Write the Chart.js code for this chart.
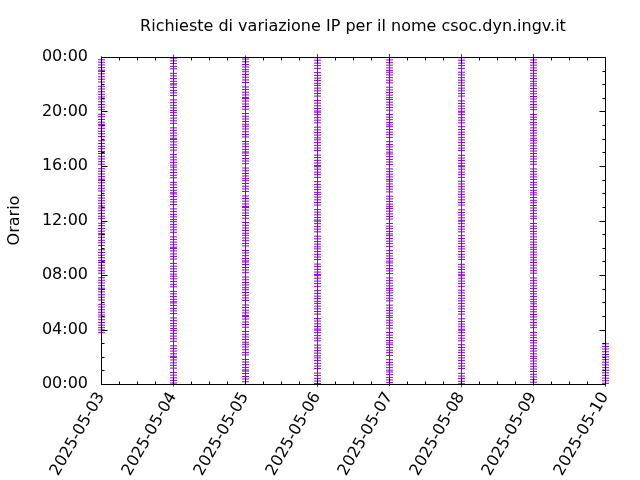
<!DOCTYPE html>
<html><head><meta charset="utf-8">
<script src="https://cdn.jsdelivr.net/npm/chart.js@4"></script>
<style>html,body{margin:0;padding:0;background:#fff}#c{display:block}</style>
</head><body>
<canvas id="c" width="640" height="480"></canvas>
<script>
const TITLE = "Richieste di variazione IP per il nome csoc.dyn.ingv.it";
const Y_LABEL = "Orario";
const dates = ["2025-05-03","2025-05-04","2025-05-05","2025-05-06","2025-05-07","2025-05-08","2025-05-09","2025-05-10"];
const yTickLabels = ["00:00","04:00","08:00","12:00","16:00","20:00","00:00"];

const times_0503 = ["03:46","03:58",
"04:08","04:19","04:31","04:43","04:55","05:04","05:16","05:27","05:39","05:51",
"06:10","06:22","06:33","06:46","06:57","07:02","07:13","07:25","07:37","07:48",
"08:08","08:19","08:31","08:43","08:55","09:04","09:16","09:27","09:39","09:51",
"10:10","10:22","10:33","10:46","10:57","11:02","11:13","11:25","11:37","11:48",
"12:08","12:19","12:31","12:43","12:55","13:04","13:16","13:27","13:39","13:51",
"14:10","14:22","14:33","14:46","14:57","15:02","15:13","15:25","15:37","15:48",
"16:08","16:19","16:31","16:43","16:55","17:04","17:16","17:27","17:39","17:51",
"18:10","18:22","18:33","18:46","18:57","19:02","19:13","19:25","19:37","19:48",
"20:08","20:19","20:31","20:43","20:55","21:04","21:16","21:27","21:39","21:51",
"22:10","22:22","22:33","22:46","22:57","23:02","23:13","23:25","23:37","23:48"];

const times_0504 = [
"00:04","00:16","00:27","00:39","00:51","01:10","01:22","01:33","01:46","01:57",
"02:02","02:13","02:25","02:37","02:48","03:08","03:19","03:31","03:43","03:55",
"04:04","04:16","04:27","04:39","04:51","05:10","05:22","05:33","05:46","05:57",
"06:02","06:13","06:25","06:37","06:48","07:08","07:19","07:31","07:43","07:55",
"08:04","08:16","08:27","08:39","08:51","09:10","09:22","09:33","09:46","09:57",
"10:02","10:13","10:25","10:37","10:48","11:08","11:19","11:31","11:43","11:55",
"12:04","12:16","12:27","12:39","12:51","13:10","13:22","13:33","13:46","13:57",
"14:02","14:13","14:25","14:37","14:48","15:08","15:19","15:31","15:43","15:55",
"16:04","16:16","16:27","16:39","16:51","17:10","17:22","17:33","17:46","17:57",
"18:02","18:13","18:25","18:37","18:48","19:08","19:19","19:31","19:43","19:55",
"20:04","20:16","20:27","20:39","20:51","21:10","21:22","21:33","21:46","21:57",
"22:02","22:13","22:25","22:37","22:48","23:08","23:19","23:31","23:43","23:55"];

const times_0505 = [
"00:10","00:22","00:33","00:46","00:57","01:02","01:13","01:25","01:37","01:48",
"02:08","02:19","02:31","02:43","02:55","03:04","03:16","03:27","03:39","03:51",
"04:10","04:22","04:33","04:46","04:57","05:02","05:13","05:25","05:37","05:48",
"06:08","06:19","06:31","06:43","06:55","07:04","07:16","07:27","07:39","07:51",
"08:10","08:22","08:33","08:46","08:57","09:02","09:13","09:25","09:37","09:48",
"10:08","10:19","10:31","10:43","10:55","11:04","11:16","11:27","11:39","11:51",
"12:10","12:22","12:33","12:46","12:57","13:02","13:13","13:25","13:37","13:48",
"14:08","14:19","14:31","14:43","14:55","15:04","15:16","15:27","15:39","15:51",
"16:10","16:22","16:33","16:46","16:57","17:02","17:13","17:25","17:37","17:48",
"18:08","18:19","18:31","18:43","18:55","19:04","19:16","19:27","19:39","19:51",
"20:10","20:22","20:33","20:46","20:57","21:02","21:13","21:25","21:37","21:48",
"22:08","22:19","22:31","22:43","22:55","23:04","23:16","23:27","23:39","23:51"];

const times_0506 = [
"00:02","00:13","00:25","00:37","00:48","01:08","01:19","01:31","01:43","01:55",
"02:04","02:16","02:27","02:39","02:51","03:10","03:22","03:33","03:46","03:57",
"04:02","04:13","04:25","04:37","04:48","05:08","05:19","05:31","05:43","05:55",
"06:04","06:16","06:27","06:39","06:51","07:10","07:22","07:33","07:46","07:57",
"08:02","08:13","08:25","08:37","08:48","09:08","09:19","09:31","09:43","09:55",
"10:04","10:16","10:27","10:39","10:51","11:10","11:22","11:33","11:46","11:57",
"12:02","12:13","12:25","12:37","12:48","13:08","13:19","13:31","13:43","13:55",
"14:04","14:16","14:27","14:39","14:51","15:10","15:22","15:33","15:46","15:57",
"16:02","16:13","16:25","16:37","16:48","17:08","17:19","17:31","17:43","17:55",
"18:04","18:16","18:27","18:39","18:51","19:10","19:22","19:33","19:46","19:57",
"20:02","20:13","20:25","20:37","20:48","21:08","21:19","21:31","21:43","21:55",
"22:04","22:16","22:27","22:39","22:51","23:10","23:22","23:33","23:46","23:57"];

const times_0507 = [
"00:06","00:18","00:29","00:41","00:53","01:01","01:12","01:24","01:35","01:47",
"02:06","02:18","02:29","02:41","02:53","03:01","03:12","03:24","03:35","03:47",
"04:06","04:18","04:29","04:41","04:53","05:01","05:12","05:24","05:35","05:47",
"06:06","06:18","06:29","06:41","06:53","07:01","07:12","07:24","07:35","07:47",
"08:06","08:18","08:29","08:41","08:53","09:01","09:12","09:24","09:35","09:47",
"10:06","10:18","10:29","10:41","10:53","11:01","11:12","11:24","11:35","11:47",
"12:06","12:18","12:29","12:41","12:53","13:01","13:12","13:24","13:35","13:47",
"14:06","14:18","14:29","14:41","14:53","15:01","15:12","15:24","15:35","15:47",
"16:06","16:18","16:29","16:41","16:53","17:01","17:12","17:24","17:35","17:47",
"18:06","18:18","18:29","18:41","18:53","19:01","19:12","19:24","19:35","19:47",
"20:06","20:18","20:29","20:41","20:53","21:01","21:12","21:24","21:35","21:47",
"22:06","22:18","22:29","22:41","22:53","23:01","23:12","23:24","23:35","23:47","23:58"];

const times_0508 = [
"00:01","00:12","00:24","00:35","00:47","01:08","01:19","01:31","01:43","01:55",
"02:06","02:18","02:29","02:41","02:53","03:10","03:22","03:33","03:46","03:57",
"04:01","04:12","04:24","04:35","04:47","05:08","05:19","05:31","05:43","05:55",
"06:06","06:18","06:29","06:41","06:53","07:10","07:22","07:33","07:46","07:57",
"08:01","08:12","08:24","08:35","08:47","09:08","09:19","09:31","09:43","09:55",
"10:06","10:18","10:29","10:41","10:53","11:10","11:22","11:33","11:46","11:57",
"12:01","12:12","12:24","12:35","12:47","13:08","13:19","13:31","13:43","13:55",
"14:06","14:18","14:29","14:41","14:53","15:10","15:22","15:33","15:46","15:57",
"16:01","16:12","16:24","16:35","16:47","17:08","17:19","17:31","17:43","17:55",
"18:06","18:18","18:29","18:41","18:53","19:10","19:22","19:33","19:46","19:57",
"20:01","20:12","20:24","20:35","20:47","21:08","21:19","21:31","21:43","21:55",
"22:06","22:18","22:29","22:41","22:53","23:10","23:22","23:33","23:46","23:57"];

const times_0509 = [
"00:08","00:19","00:31","00:43","00:55","01:06","01:18","01:29","01:41","01:53",
"02:02","02:13","02:25","02:37","02:48","03:01","03:12","03:24","03:35","03:47",
"04:08","04:19","04:31","04:43","04:55","05:06","05:18","05:29","05:41","05:53",
"06:02","06:13","06:25","06:37","06:48","07:01","07:12","07:24","07:35","07:47",
"08:08","08:19","08:31","08:43","08:55","09:06","09:18","09:29","09:41","09:53",
"10:02","10:13","10:25","10:37","10:48","11:01","11:12","11:24","11:35","11:47",
"12:08","12:19","12:31","12:43","12:55","13:06","13:18","13:29","13:41","13:53",
"14:02","14:13","14:25","14:37","14:48","15:01","15:12","15:24","15:35","15:47",
"16:08","16:19","16:31","16:43","16:55","17:06","17:18","17:29","17:41","17:53",
"18:02","18:13","18:25","18:37","18:48","19:01","19:12","19:24","19:35","19:47",
"20:08","20:19","20:31","20:43","20:55","21:06","21:18","21:29","21:41","21:53",
"22:02","22:13","22:25","22:37","22:48","23:01","23:12","23:24","23:35","23:47","23:58"];

const times_0510 = ["00:03","00:14","00:26","00:38","00:49","01:01","01:12","01:24","01:36","01:47","01:59","02:10","02:22","02:34","02:45","02:57"];

const timesByDay = [times_0503, times_0504, times_0505, times_0506, times_0507, times_0508, times_0509, times_0510];

function toMinutes(t){ const [h,m] = t.split(":").map(Number); return h*60+m; }

const points = [];
timesByDay.forEach((list, i) => list.forEach(t => points.push({x: i, y: toMinutes(t)})));

const FONT = "'DejaVu Sans', sans-serif";

const framePlugin = {
  id: 'frame',
  beforeDatasetsDraw(chart){
    chart.ctx.save();
    chart.ctx.translate(0.5, 0);
  },
  afterDatasetsDraw(chart){
    const {ctx, chartArea: a, scales: {x, y}} = chart;
    ctx.restore();
    ctx.save();
    ctx.strokeStyle = '#000';
    ctx.lineWidth = 1;
    const L = Math.round(a.left) + 0.5, R = Math.round(a.right) + 0.5;
    const T = Math.round(a.top) + 0.5, B = Math.round(a.bottom) + 0.5;
    ctx.beginPath();
    ctx.rect(L, T, R - L, B - T);
    for (let v = 0; v <= 1440; v += 60) {
      const p = Math.round(y.getPixelForValue(v)) + 0.5;
      const len = (v % 240 === 0) ? 6 : 3;
      ctx.moveTo(L, p); ctx.lineTo(L + len, p);
      ctx.moveTo(R, p); ctx.lineTo(R - len, p);
    }
    for (let d = 0; d <= 28; d++) {
      const v = d / 4;
      const p = Math.round(x.getPixelForValue(v)) + 0.5;
      const len = (d % 4 === 0) ? 6 : 3;
      ctx.moveTo(p, B); ctx.lineTo(p, B - len);
      ctx.moveTo(p, T); ctx.lineTo(p, T + len);
    }
    ctx.stroke();
    ctx.restore();
  },
  afterDraw(chart){
    const {ctx, chartArea: a} = chart;
    ctx.save();
    ctx.fillStyle = '#000';
    ctx.font = "16px " + FONT;
    ctx.textAlign = 'center';
    ctx.textBaseline = 'middle';
    ctx.fillText(TITLE, (a.left + a.right) / 2, 27);
    ctx.restore();
  }
};

new Chart(document.getElementById('c'), {
  type: 'scatter',
  data: {
    datasets: [{
      data: points,
      pointStyle: 'cross',
      pointRadius: 3.5,
      pointBorderWidth: 1,
      borderColor: '#9400d3',
      backgroundColor: '#9400d3',
      pointHoverRadius: 3.5,
      clip: false
    }]
  },
  options: {
    responsive: false,
    animation: false,
    devicePixelRatio: 1,
    events: [],
    layout: { padding: { left: 0, right: 35, top: 57, bottom: 0 } },
    plugins: { legend: { display: false }, tooltip: { enabled: false }, title: { display: false } },
    scales: {
      x: {
        type: 'linear', min: 0, max: 7,
        afterFit(s){ s.height = 96; },
        grid: { display: false, drawTicks: false },
        border: { display: false },
        ticks: {
          stepSize: 1, autoSkip: false, maxRotation: 60, minRotation: 60, padding: 5,
          color: '#000', font: { family: FONT, size: 16 },
          callback: v => dates[v]
        }
      },
      y: {
        type: 'linear', min: 0, max: 1440,
        afterFit(s){ s.width = 101; },
        grid: { display: false, drawTicks: false },
        border: { display: false },
        title: { display: true, text: Y_LABEL, color: '#000', font: { family: FONT, size: 16 }, padding: { top: 5, bottom: 0 } },
        ticks: {
          stepSize: 240, padding: 13,
          color: '#000', font: { family: FONT, size: 16 },
          callback: v => yTickLabels[v / 240]
        }
      }
    }
  },
  plugins: [framePlugin]
});
</script>
</body></html>
